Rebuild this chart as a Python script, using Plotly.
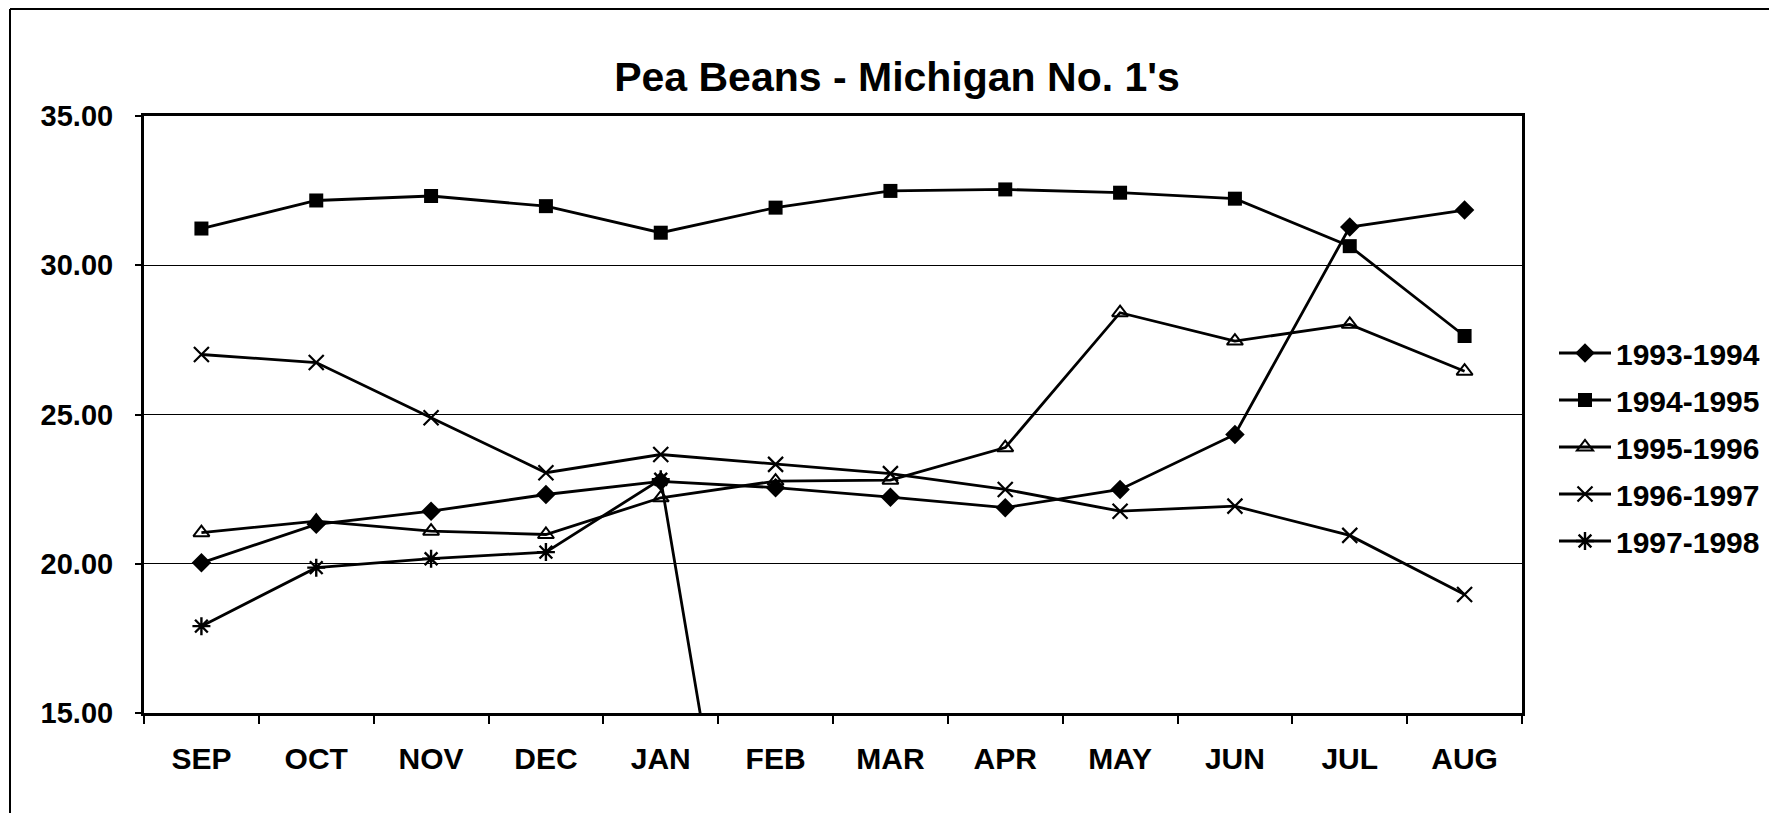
import plotly.graph_objects as go

months = ["SEP", "OCT", "NOV", "DEC", "JAN", "FEB", "MAR", "APR", "MAY", "JUN", "JUL", "AUG"]

s_1993_1994 = [20.03, 21.32, 21.76, 22.32, 22.76, 22.55, 22.23, 21.88, 22.49, 24.33, 31.28, 31.85]
s_1994_1995 = [31.23, 32.17, 32.32, 31.98, 31.09, 31.93, 32.49, 32.54, 32.43, 32.23, 30.64, 27.63]
s_1995_1996 = [21.04, 21.43, 21.09, 20.98, 22.21, 22.77, 22.80, 23.89, 28.41, 27.46, 28.02, 26.45]
s_1996_1997 = [27.01, 26.74, 24.89, 23.05, 23.66, 23.33, 23.02, 22.49, 21.76, 21.93, 20.95, 18.97]
s_1997_1998 = [17.91, 19.87, 20.17, 20.39, 22.83, 0.0, None, None, None, None, None, None]

y_ticks = [15, 20, 25, 30, 35]
y_tick_text = ["15.00", "20.00", "25.00", "30.00", "35.00"]

FONT = "Liberation Sans, Arial, sans-serif"

series = [
    ("1993-1994", s_1993_1994, dict(symbol="diamond", size=15, color="black")),
    ("1994-1995", s_1994_1995, dict(symbol="square", size=14, color="black")),
    ("1995-1996", s_1995_1996, dict(symbol="triangle-up-open", size=14, color="black",
                                    line=dict(color="black", width=2))),
    ("1996-1997", s_1996_1997, dict(symbol="x-thin-open", size=15, color="black",
                                    line=dict(color="black", width=2.2))),
    ("1997-1998", s_1997_1998, dict(symbol="asterisk-open", size=15, color="black",
                                    line=dict(color="black", width=2.4))),
]

fig = go.Figure()
for name, vals, marker in series:
    fig.add_trace(go.Scatter(
        x=months, y=vals, name="<b>" + name + "</b>", mode="lines+markers",
        line=dict(color="black", width=2.8),
        marker=marker, legendgroup=name, connectgaps=False,
    ))

W, H = 1769, 813
L, T, R, B = 144, 116, 247, 100
PW, PH = W - L - R, H - T - B

fig.update_layout(
    width=W, height=H,
    paper_bgcolor="white", plot_bgcolor="white",
    margin=dict(l=L, r=R, t=T, b=B, autoexpand=False),
    font=dict(family=FONT, color="black", size=29),
    title=dict(text="<b>Pea Beans - Michigan No. 1's</b>", x=897 / W, xref="container",
               xanchor="center", y=1 - 77 / H, yref="container", yanchor="middle",
               font=dict(size=41, family=FONT, color="black")),
    showlegend=True,
    legend=dict(x=(1554 - L) / PW, xanchor="left", y=(713 - 447) / PH, yanchor="middle",
                font=dict(size=30, family=FONT, color="black"),
                tracegroupgap=5, bgcolor="rgba(0,0,0,0)", itemwidth=52),
    xaxis=dict(type="category", range=[-0.5, 11.5], showline=True, linecolor="black",
               linewidth=3, mirror=True,
               ticks="outside", tickson="boundaries", ticklen=8, tickcolor="black", tickwidth=2,
               showgrid=False, tickfont=dict(size=30, family=FONT),
               tickvals=months, ticktext=["<b>" + m + "</b>" for m in months],
               ticklabelstandoff=17, zeroline=False),
    yaxis=dict(range=[15, 35], tickvals=y_ticks, ticktext=["<b>" + t + "</b>" for t in y_tick_text],
               showline=True, linecolor="black", linewidth=3, mirror=True, ticks="outside",
               ticklen=6, tickcolor="black", tickwidth=2, showgrid=True, gridcolor="black",
               gridwidth=1.2, tickfont=dict(size=29, family=FONT), ticklabelstandoff=16,
               zeroline=False),
)

# outer chart frame (top and left edges visible in the scan)
fx = (10 - L) / PW
fy = (713 - 9) / PH
fig.add_shape(type="line", xref="paper", yref="paper",
              x0=fx, x1=(W - L) / PW, y0=fy, y1=fy, line=dict(color="black", width=2))
fig.add_shape(type="line", xref="paper", yref="paper",
              x0=fx, x1=fx, y0=fy, y1=(713 - H) / PH, line=dict(color="black", width=2))

fig.write_html("out.html", config={"displayModeBar": False},
               post_script="document.body.style.margin='0';")
